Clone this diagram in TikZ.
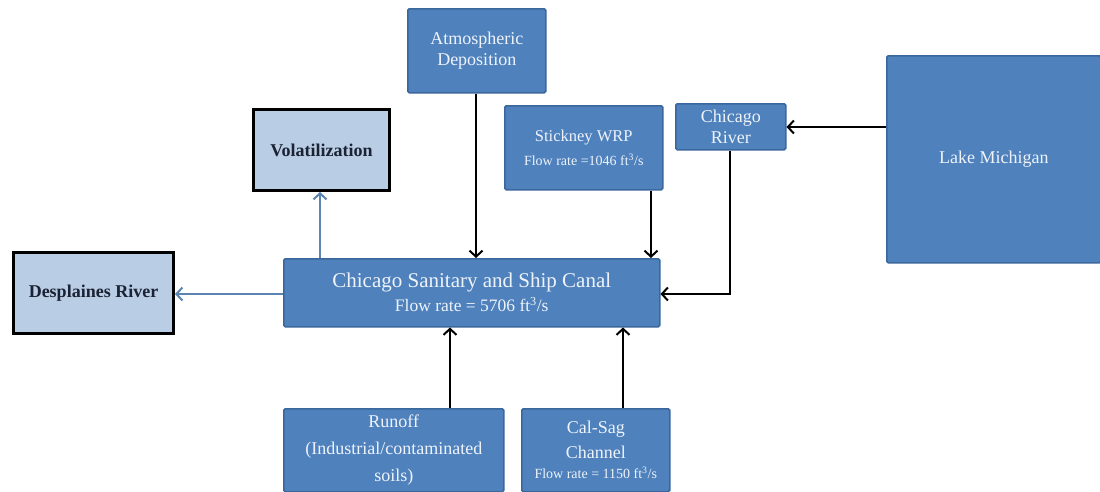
\documentclass[tikz,border=0pt]{standalone}
\usepackage{fontspec}
\setmainfont{Liberation Serif}
\usetikzlibrary{arrows.meta}
\definecolor{boxblue}{HTML}{4F81BD}
\definecolor{boxedge}{HTML}{3A679C}
\definecolor{lightbox}{HTML}{B9CDE5}
\definecolor{boxtext}{HTML}{EEF3FA}
\definecolor{navytext}{HTML}{1B2233}
\definecolor{steel}{HTML}{5C84B2}
\tikzset{
  darkbox/.style={draw=boxedge, fill=boxblue, line width=1.5pt, rounded corners=1.5pt,
    text=boxtext, align=center, anchor=north west, inner sep=0pt, font=\fontsize{18}{21}\selectfont},
  lightbx/.style={draw=black, fill=lightbox, line width=3pt, align=center, anchor=north west,
    inner sep=0pt, text=navytext, font=\fontsize{18}{21}\selectfont\bfseries},
  inflow/.style={draw=black, line width=2pt, -{Straight Barb[length=6pt,width=13pt,line width=2pt]}},
  outflow/.style={draw=steel, line width=2pt, -{Straight Barb[length=6pt,width=13pt,line width=2pt]}},
}
\begin{document}
\begin{tikzpicture}[x=1pt,y=-1pt]
\useasboundingbox (0,0) rectangle (1100,491);
% boxes
\node[darkbox, minimum width=138pt, minimum height=84pt] (atm) at (407,8) {Atmospheric\\Deposition};
\node[lightbx, minimum width=136pt, minimum height=81pt] (vol) at (252,108) {Volatilization};
\node[lightbx, minimum width=160pt, minimum height=81pt] (des) at (12,251) {Desplaines River};
\node[darkbox, minimum width=158pt, minimum height=84pt] (stk) at (504,105)
  {{\fontsize{16.5}{19}\selectfont Stickney WRP}\\[3pt]{\fontsize{14}{16}\selectfont Flow rate =1046 ft\textsuperscript{3}/s}};
\node[darkbox, minimum width=110pt, minimum height=46pt] (chr) at (675,103)
  {Chicago\\River};
\node[darkbox, minimum width=214pt, minimum height=207pt] (lake) at (886,55) {Lake Michigan};
\node[darkbox, minimum width=376pt, minimum height=68pt] (csc) at (283,258)
  {{\fontsize{21}{24}\selectfont Chicago Sanitary and Ship Canal}\\[3pt]
   {\fontsize{17.5}{19}\selectfont Flow rate = 5706 ft\textsuperscript{3}/s}};
\node[darkbox, minimum width=220pt, minimum height=83pt] (run) at (283,408)
  {Runoff\\[6pt](Industrial/contaminated\\[6pt]soils)};
\node[darkbox, minimum width=148pt, minimum height=83pt] (cal) at (521,408)
  {Cal-Sag\\[4pt]Channel\\[-1pt]{\fontsize{14}{16}\selectfont Flow rate = 1150 ft\textsuperscript{3}/s}};
% connectors
\coordinate (bend) at (730,294);
\draw[outflow] (csc.west |- 0,294) -- (des.east |- 0,294);
\draw[outflow] (csc.north -| 320,0) -- (vol.south -| 320,0);
\draw[inflow] (atm.south -| 476,0) -- (csc.north -| 476,0);
\draw[inflow] (stk.south -| 651,0) -- (csc.north -| 651,0);
\draw[inflow] (lake.west |- 0,127) -- (chr.east |- 0,127);
\draw[inflow] (chr.south -| bend) -- (bend) -- (csc.east |- bend);
\draw[inflow] (run.north -| 450,0) -- (csc.south -| 450,0);
\draw[inflow] (cal.north -| 623,0) -- (csc.south -| 623,0);
\end{tikzpicture}
\end{document}
